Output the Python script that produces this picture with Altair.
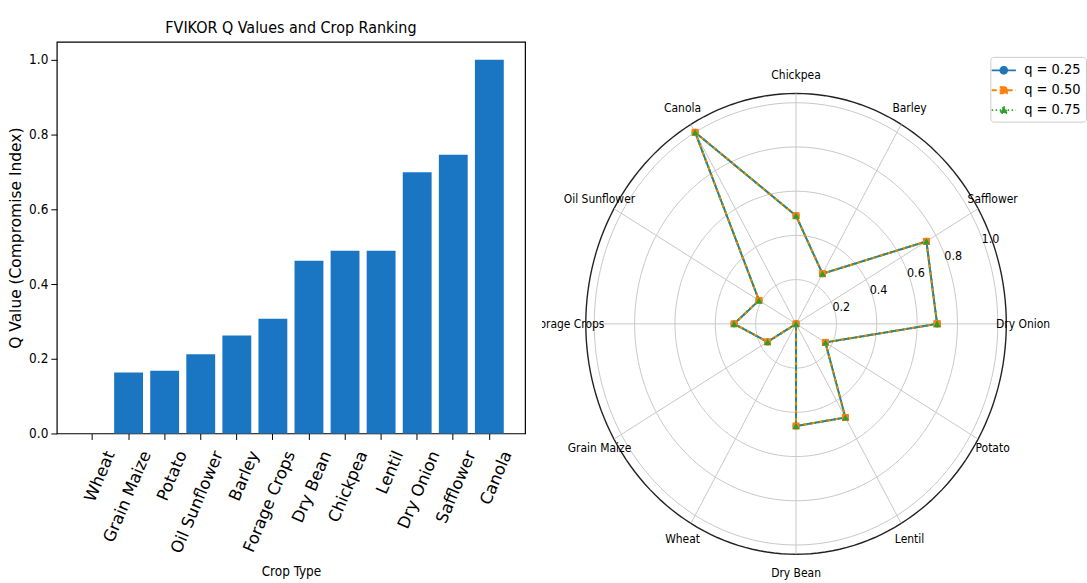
import altair as alt
import pandas as pd

# ---------------- data ----------------
bar_crops = ["Wheat", "Grain Maize", "Potato", "Oil Sunflower", "Barley", "Forage Crops",
             "Dry Bean", "Chickpea", "Lentil", "Dry Onion", "Safflower", "Canola"]
bar_q = [0.0, 0.163, 0.168, 0.212, 0.262, 0.307, 0.462, 0.489, 0.489, 0.699, 0.746, 1.0]

# radar categories, counter-clockwise starting at 3 o'clock
radar_crops = ["Dry Onion", "Safflower", "Barley", "Chickpea", "Canola", "Oil Sunflower",
               "Forage Crops", "Grain Maize", "Wheat", "Dry Bean", "Lentil", "Potato"]
q_labels = ["q = 0.25", "q = 0.50", "q = 0.75"]
radar_q025 = [0.699, 0.746, 0.262, 0.489, 1.0, 0.212, 0.307, 0.163, 0.0, 0.462, 0.489, 0.168]
radar_q050 = [0.699, 0.746, 0.262, 0.489, 1.0, 0.212, 0.307, 0.163, 0.0, 0.462, 0.489, 0.168]
radar_q075 = [0.699, 0.746, 0.262, 0.489, 1.0, 0.212, 0.307, 0.163, 0.0, 0.462, 0.489, 0.168]
grid_levels = [0.2, 0.4, 0.6, 0.8, 1.0]
y_ticks = [0.0, 0.2, 0.4, 0.6, 0.8, 1.0]
r_outer = 1.042
label_r = 1.125
rtick_angle = 22.5

NARROW = "Liberation Sans Narrow, DejaVu Sans Condensed, DejaVu Sans"
WIDE = "DejaVu Sans"
series_colors = ["#1f77b4", "#ff7f0e", "#2ca02c"]

# ---------------- bar chart ----------------
bar_df = pd.DataFrame({"crop": bar_crops, "q": bar_q})

bars = alt.Chart(bar_df).mark_bar(color="#1a76c2").encode(
    x=alt.X("crop:N", sort=bar_crops, title="Crop Type",
            scale=alt.Scale(paddingInner=0.2, paddingOuter=0.59),
            axis=alt.Axis(labelAngle=-67, labelAlign="right", labelBaseline="middle",
                          labelOffset=18, labelPadding=12, labelFont=WIDE, labelFontSize=16.5,
                          labelColor="black", tickSize=6, tickColor="black", domain=False,
                          titleFont=NARROW, titleFontSize=13.5, titleFontWeight="normal",
                          titleColor="black", titlePadding=9)),
    y=alt.Y("q:Q", title="Q Value (Compromise Index)",
            scale=alt.Scale(domain=[0, 1.048], nice=False),
            axis=alt.Axis(values=y_ticks, format=".1f", grid=False, domain=False,
                          tickSize=6, tickColor="black", labelFont=NARROW, labelFontSize=13.5,
                          labelColor="black", labelPadding=3, titleFont=WIDE,
                          titleFontSize=15.5, titleFontWeight="normal", titleColor="black",
                          titlePadding=5)),
).properties(
    width=470, height=393,
    title=alt.TitleParams("FVIKOR Q Values and Crop Ranking", font=NARROW, fontSize=16,
                          fontWeight="normal", baseline="alphabetic", offset=-7.5, color="black"),
    view=alt.ViewBackground(stroke="black", strokeWidth=1.2),
)

# ---------------- radar chart ----------------
rows = []
for s, vals in zip(q_labels, [radar_q025, radar_q050, radar_q075]):
    for i in range(len(radar_crops) + 1):
        k = i % len(radar_crops)
        rows.append({"series": s, "crop": radar_crops[k], "idx": i, "q": vals[k]})
radar_df = pd.DataFrame(rows)
spoke_df = pd.DataFrame({"crop": radar_crops, "idx": list(range(len(radar_crops)))})
grid_df = pd.DataFrame({"r": grid_levels})
outer_df = pd.DataFrame({"r": [r_outer]})

N = len(radar_crops)
xs = alt.Scale(domain=[-1.259, 1.437], nice=False, zero=False)
ys = alt.Scale(domain=[-1.167, 1.275], nice=False, zero=False)


def X(f):
    return alt.X(f"{f}:Q", scale=xs, axis=None)


def Y(f):
    return alt.Y(f"{f}:Q", scale=ys, axis=None)


ang = f"datum.idx * 2 * PI / {N}"

color_scale = alt.Scale(domain=q_labels, range=series_colors)
fill_scale = alt.Scale(domain=q_labels, range=series_colors)
dash_scale = alt.Scale(domain=q_labels, range=[[1, 0], [5, 3], [1.5, 2.5]])
shape_scale = alt.Scale(domain=q_labels, range=[
    "M-1.6,0H1.6M0.45,0A0.45,0.45,0,1,1,-0.45,0A0.45,0.45,0,1,1,0.45,0Z",
    "M-1.6,0H1.6M-0.42,-0.42H0.42V0.42H-0.42Z",
    "M-1.6,0H1.6M0,-0.5L0.48,0.38H-0.48Z",
])
leg = alt.Legend(title=None, orient="none", legendX=450, legendY=15, symbolSize=230,
                 labelFont=NARROW, labelFontSize=14.5, labelColor="black", padding=5,
                 strokeColor="#cccccc", fillColor="white", cornerRadius=3, rowPadding=4,
                 labelOffset=12, symbolStrokeWidth=1.8)

grid = alt.Chart(grid_df).transform_calculate(
    deg="sequence(0, 362, 2)"
).transform_flatten(["deg"]).transform_calculate(
    gx="datum.r * cos(datum.deg * PI / 180)", gy="datum.r * sin(datum.deg * PI / 180)"
).mark_line(color="#c8c8c8", strokeWidth=1).encode(
    x=X("gx"), y=Y("gy"), detail="r:N", order="deg:Q")

outer = alt.Chart(outer_df).transform_calculate(
    deg="sequence(0, 362, 2)"
).transform_flatten(["deg"]).transform_calculate(
    gx="datum.r * cos(datum.deg * PI / 180)", gy="datum.r * sin(datum.deg * PI / 180)"
).mark_line(color="#222222", strokeWidth=1.4).encode(
    x=X("gx"), y=Y("gy"), detail="r:N", order="deg:Q")

spokes = alt.Chart(spoke_df).transform_calculate(
    cx="0", cy="0",
    sx=f"{r_outer} * cos({ang})", sy=f"{r_outer} * sin({ang})"
).mark_rule(color="#c8c8c8", strokeWidth=1).encode(
    x=X("cx"), y=Y("cy"), x2="sx:Q", y2="sy:Q")

labels = alt.Chart(spoke_df).transform_calculate(
    lx=f"{label_r} * cos({ang})", ly=f"{label_r} * sin({ang})"
).mark_text(font=NARROW, fontSize=12, color="black", clip=True).encode(
    x=X("lx"), y=Y("ly"), text="crop:N")

rticks = alt.Chart(grid_df).transform_calculate(
    tx=f"datum.r * cos({rtick_angle} * PI / 180)", ty=f"datum.r * sin({rtick_angle} * PI / 180)"
).mark_text(font=NARROW, fontSize=12.5, color="black", dx=8).encode(
    x=X("tx"), y=Y("ty"), text=alt.Text("r:Q", format=".1f"))

radar_base = alt.Chart(radar_df).transform_calculate(
    px=f"datum.q * cos({ang})", py=f"datum.q * sin({ang})")

lines = radar_base.mark_line(strokeWidth=2).encode(
    x=X("px"), y=Y("py"),
    color=alt.Color("series:N", scale=color_scale, legend=leg),
    strokeDash=alt.StrokeDash("series:N", scale=dash_scale, legend=leg),
    order="idx:Q")

point_layers = []
for s, shp in zip(q_labels, ["circle", "square", "triangle-up"]):
    point_layers.append(
        radar_base.transform_filter(alt.datum.series == s).mark_point(
            filled=True, shape=shp, size=50, opacity=1).encode(
            x=X("px"), y=Y("py"),
            color=alt.Color("series:N", scale=color_scale, legend=leg)))

legend_layer = radar_base.mark_point(size=0, filled=False, strokeWidth=1.8).encode(
    x=X("px"), y=Y("py"),
    color=alt.Color("series:N", scale=color_scale, legend=leg),
    fill=alt.Fill("series:N", scale=fill_scale, legend=leg),
    shape=alt.Shape("series:N", scale=shape_scale, legend=leg),
    strokeDash=alt.StrokeDash("series:N", scale=dash_scale, legend=leg))

radar = alt.layer(grid, outer, spokes, labels, rticks, lines, *point_layers, legend_layer).properties(
    width=546, height=542,
    view=alt.ViewBackground(strokeWidth=0),
)

chart = alt.hconcat(bars, radar, spacing=16).resolve_scale(
    color="independent", fill="independent", shape="independent", strokeDash="independent"
).properties(
    padding={"left": 8, "top": 18, "right": 0, "bottom": 0},
    background="white",
)

chart.save("out.html", embed_options={"renderer": "svg", "actions": False})
